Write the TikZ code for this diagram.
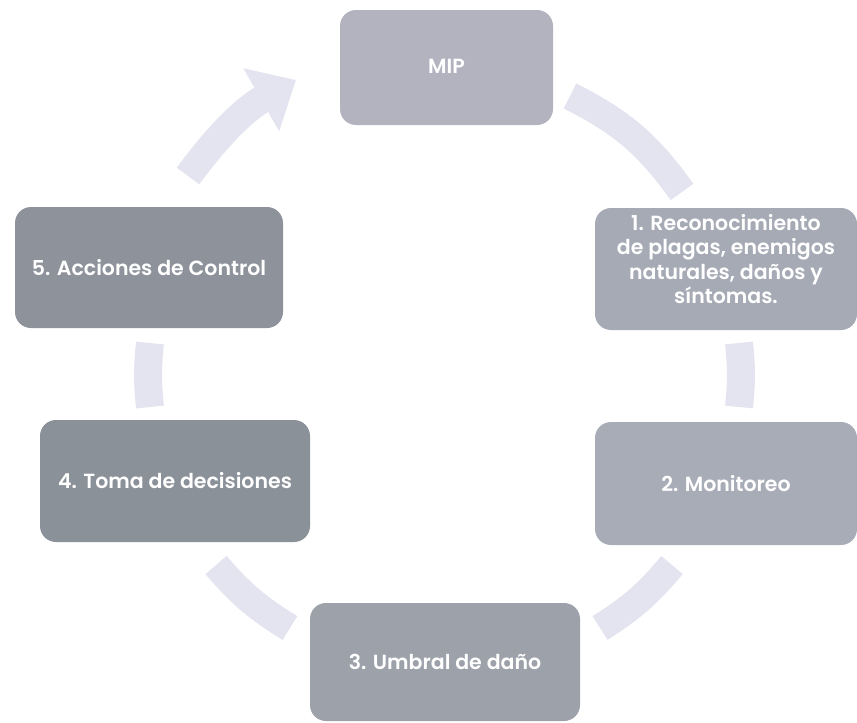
\documentclass[tikz,border=0pt]{standalone}
\usepackage{fontspec}
\setmainfont{Poppins}[BoldFont={Poppins SemiBold}]
\usetikzlibrary{arrows.meta}
\definecolor{band}{RGB}{228,228,241}
\definecolor{cmip}{RGB}{178,179,191}
\definecolor{cone}{RGB}{166,170,181}
\definecolor{ctwo}{RGB}{168,172,182}
\definecolor{cthree}{RGB}{156,161,170}
\definecolor{cfour}{RGB}{139,145,153}
\definecolor{cfive}{RGB}{141,146,155}
\tikzset{
  stepbox/.style={rounded corners=16pt, draw=none, text=white, align=center,
    font=\bfseries\fontsize{20.5}{24.5}\selectfont, inner sep=0pt},
  bandline/.style={draw=band, line width=28pt}
}
\begin{document}
\begin{tikzpicture}[x=1pt,y=-1pt]
\useasboundingbox (0,0) rectangle (857,723);
% nodes
\node[stepbox, fill=cmip, minimum width=213pt, minimum height=115pt, text depth=3pt] (mip) at (446.5,67.5) {MIP};
\node[stepbox, fill=cone, minimum width=262pt, minimum height=122pt] (s1) at (726,269) {};
\node[stepbox] (t1) at ([yshift=10pt]s1.center) {1. Reconocimiento\\de plagas, enemigos\\naturales, daños y\\síntomas.};
\node[stepbox, fill=ctwo, minimum width=262pt, minimum height=123pt] (s2) at (726,483.5) {2. Monitoreo};
\node[stepbox, fill=cthree, minimum width=270pt, minimum height=118pt] (s3) at (445,662) {3. Umbral de daño};
\node[stepbox, fill=cfour, minimum width=270pt, minimum height=122pt] (s4) at (175,481) {4. Toma de decisiones};
\node[stepbox, fill=cfive, minimum width=268pt, minimum height=121pt] (s5) at (149,267.5) {5. Acciones de Control};
% band end points
\coordinate (a1) at (570,96);  \coordinate (b1) at (682,192);
\coordinate (a2) at (739,343); \coordinate (b2) at (739,407);
\coordinate (a3) at (672,565); \coordinate (b3) at (600,628);
\coordinate (a4) at (290,628); \coordinate (b4) at (216,565);
\coordinate (a5) at (150,407); \coordinate (b5) at (150,343);
\coordinate (a6) at (188,176); \coordinate (b6) at (296,80);
% bands
\draw[bandline] (a1) to[bend left=14] (b1);
\draw[bandline] (a2) to[bend left=6] (b2);
\draw[bandline] (a3) to[bend left=9] (b3);
\draw[bandline] (a4) to[bend left=9] (b4);
\draw[bandline] (a5) to[bend left=6] (b5);
\draw[bandline, -{Triangle[width=70pt,length=40pt]}] (a6) to[bend left=12] (b6);
\end{tikzpicture}
\end{document}
